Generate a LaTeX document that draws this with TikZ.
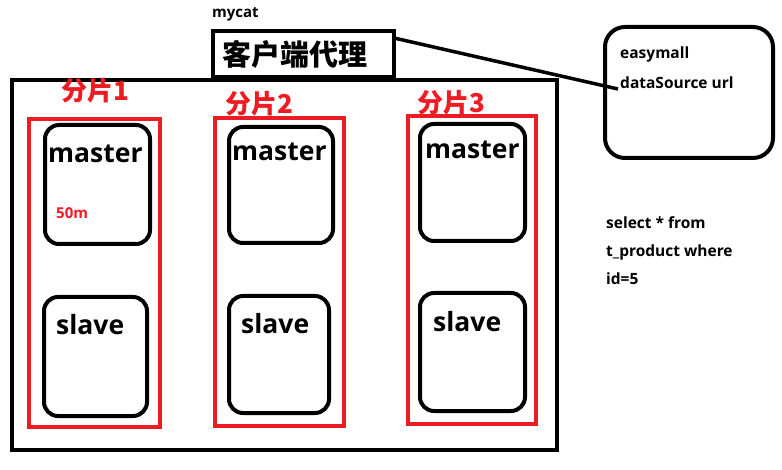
\documentclass[tikz,border=0pt]{standalone}
\usepackage{fontspec}
\setmainfont{Open Sans}
\newfontfamily\cjk{Noto Sans CJK SC}
\definecolor{shardred}{RGB}{237,28,36}
\begin{document}
\begin{tikzpicture}[x=1pt,y=-1pt,
  blk/.style={draw=black,line width=4pt},
  shard/.style={draw=shardred,line width=4pt},
  dbbox/.style={draw=black,line width=4pt,rounded corners=14pt},
  lbl/.style={font=\bfseries\fontsize{26.5}{28}\selectfont,inner sep=0pt,anchor=base west},
  shardlbl/.style={font=\cjk\bfseries\fontsize{26}{28}\selectfont,text=shardred,inner sep=0pt,anchor=base west},
  small/.style={font=\bfseries\fontsize{15.5}{17}\selectfont,inner sep=0pt,anchor=base west}
  ]
\useasboundingbox (0,0) rectangle (782,470);
% outer
\draw[blk] (12,80) rectangle (557,450);
% proxy
\draw[blk] (213,31) rectangle (394,77);
\node[font=\cjk\bfseries\fontsize{29}{31}\selectfont,inner sep=0pt,anchor=base west] (proxytxt) at (222,66) {客户端代理};
\node[small,font=\bfseries\fontsize{15}{17}\selectfont] (mycat) at (212,18) {mycat};
\coordinate (pc) at (394,38);
% shards
\draw[shard] (29,119) rectangle (160,427);
\draw[shard] (215,118) rectangle (344,426);
\draw[shard] (408,116) rectangle (536,424);
\node[shardlbl] (s1) at (61,101) {分片1};
\node[shardlbl] (s2) at (225,114) {分片2};
\node[shardlbl] (s3) at (417,113) {分片3};
% masters
\draw[dbbox] (45,125) rectangle (150,244);
\draw[dbbox] (229,127) rectangle (333,243);
\draw[dbbox] (420,124) rectangle (525,241);
\node[lbl] (m1) at (48,163) {master};
\node[lbl] (m2) at (232,161) {master};
\node[lbl] (m3) at (425,159) {master};
\node[font=\bfseries\fontsize{15}{16}\selectfont,text=shardred,inner sep=0pt,anchor=base west] (m50) at (56,219) {50m};
% slaves
\draw[dbbox] (44,297) rectangle (147,416);
\draw[dbbox] (229,296) rectangle (329,413);
\draw[dbbox] (420,293) rectangle (525,411);
\node[lbl] (sl1) at (56,335) {slave};
\node[lbl] (sl2) at (241,334) {slave};
\node[lbl] (sl3) at (433,332) {slave};
% datasource
\draw[black,line width=4pt,rounded corners=20pt] (605,27) rectangle (773,158);
\node[small] (easy) at (620,59) {easymall};
\node[small] (ds) at (620,89) {dataSource url};
\coordinate (dc) at (618,89);
\draw[black,line width=3.5pt] (pc) -- (dc);
% sql
\node[small] (q1) at (606,229) {select * from};
\node[small] (q2) at (606,257) {t\_product where};
\node[small] (q3) at (606,285) {id=5};
\end{tikzpicture}
\end{document}
